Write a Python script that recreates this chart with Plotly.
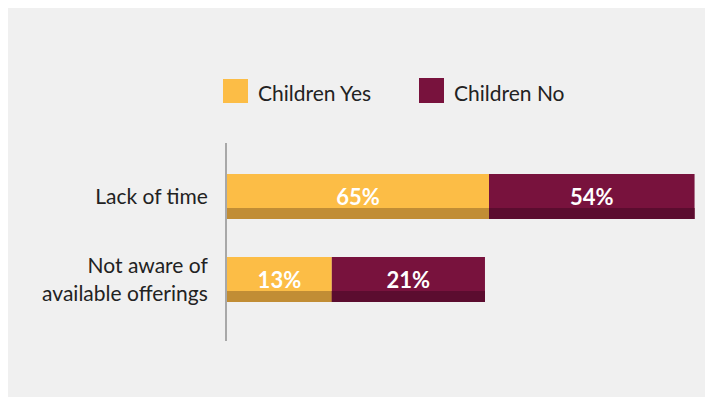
import plotly.graph_objects as go

# ---- data ----
categories = ["Not aware of<br>available offerings", "Lack of time"]
cat_pos = [0, 1]
series_names = ["Children Yes", "Children No"]
# percentages shown in the labels
yes_pct = [13, 65]
no_pct = [21, 54]
# bar lengths as drawn in the picture (same units as the 65% bar)
yes_len = [26, 65]
no_len = [38, 51]

yes_light, yes_dark = "#FCBD46", "#C18D35"
no_light, no_dark = "#78123D", "#5B0C2F"
FONT = "Lato"

fig = go.Figure()

BW = 0.542      # full bar thickness (y units)
STRIP = 0.133   # darker bottom strip thickness

no_base = yes_len[:]

def add_pair(vals, base, light, dark, name):
    fig.add_trace(go.Bar(
        y=cat_pos, x=vals, base=base, orientation="h", width=BW,
        marker=dict(color=light, line=dict(width=0)), name=name,
        showlegend=False, hoverinfo="skip"))
    fig.add_trace(go.Bar(
        y=cat_pos, x=vals, base=base, orientation="h", width=STRIP,
        offset=-BW / 2, marker=dict(color=dark, line=dict(width=0)),
        showlegend=False, hoverinfo="skip"))

add_pair(yes_len, [0, 0], yes_light, yes_dark, series_names[0])
add_pair(no_len, no_base, no_light, no_dark, series_names[1])

# label traces (transparent bars carrying the text)
for vals, base, pct, name in [(yes_len, [0, 0], yes_pct, series_names[0]),
                              (no_len, no_base, no_pct, series_names[1])]:
    fig.add_trace(go.Bar(
        y=cat_pos, x=vals, base=base, orientation="h", width=BW,
        marker=dict(color="rgba(0,0,0,0)", line=dict(width=0)),
        text=[f"{p}%" for p in pct], textposition="inside",
        insidetextanchor="middle", constraintext="none",
        textfont=dict(family=FONT, size=22, color="white", weight="bold"),
        name=name, showlegend=False,
        hovertemplate=name + ": %{text}<extra></extra>"))

# ---- layout ----
OFF = 8  # page body offset
W, H = 713, 398
L, T = 227 - OFF, 143 - OFF
B = H - (341 - OFF)
pw = 473
R = W - L - pw
ph = H - T - B

def px(xp):
    return (xp - OFF - L) / pw

def py(yp):
    return (H - B - (yp - OFF)) / ph

shapes = [
    dict(type="rect", xref="paper", yref="paper", layer="below",
         x0=px(5), x1=px(740), y0=py(397), y1=py(6),
         fillcolor="#F0F0F0", line=dict(width=0)),
    dict(type="rect", xref="paper", yref="paper",
         x0=px(223), x1=px(248), y0=py(103), y1=py(79),
         fillcolor=yes_light, line=dict(width=0)),
    dict(type="rect", xref="paper", yref="paper",
         x0=px(419), x1=px(444), y0=py(103), y1=py(78),
         fillcolor=no_light, line=dict(width=0)),
]
annotations = [
    dict(xref="paper", yref="paper", x=px(256), y=py(92), xanchor="left",
         yanchor="middle", text=series_names[0], showarrow=False,
         font=dict(family=FONT, size=21, color="#222222")),
    dict(xref="paper", yref="paper", x=px(452), y=py(92), xanchor="left",
         yanchor="middle", text=series_names[1], showarrow=False,
         font=dict(family=FONT, size=21, color="#222222")),
]

fig.update_layout(
    width=W, height=H, barmode="overlay",
    margin=dict(l=L, r=R, t=T, b=B),
    paper_bgcolor="white", plot_bgcolor="rgba(0,0,0,0)",
    showlegend=False, shapes=shapes, annotations=annotations,
    xaxis=dict(range=[0, pw / (262 / 65)], visible=False, fixedrange=True),
    yaxis=dict(range=[-0.741, 1.645], tickvals=cat_pos, ticktext=categories,
               showline=True, linecolor="#A8A8A8", linewidth=2,
               showgrid=False, zeroline=False, ticks="outside", ticklen=13,
               tickcolor="rgba(0,0,0,0)",
               tickfont=dict(family=FONT, size=21, color="#222222"),
               fixedrange=True),
)

fig.write_html("out.html")
